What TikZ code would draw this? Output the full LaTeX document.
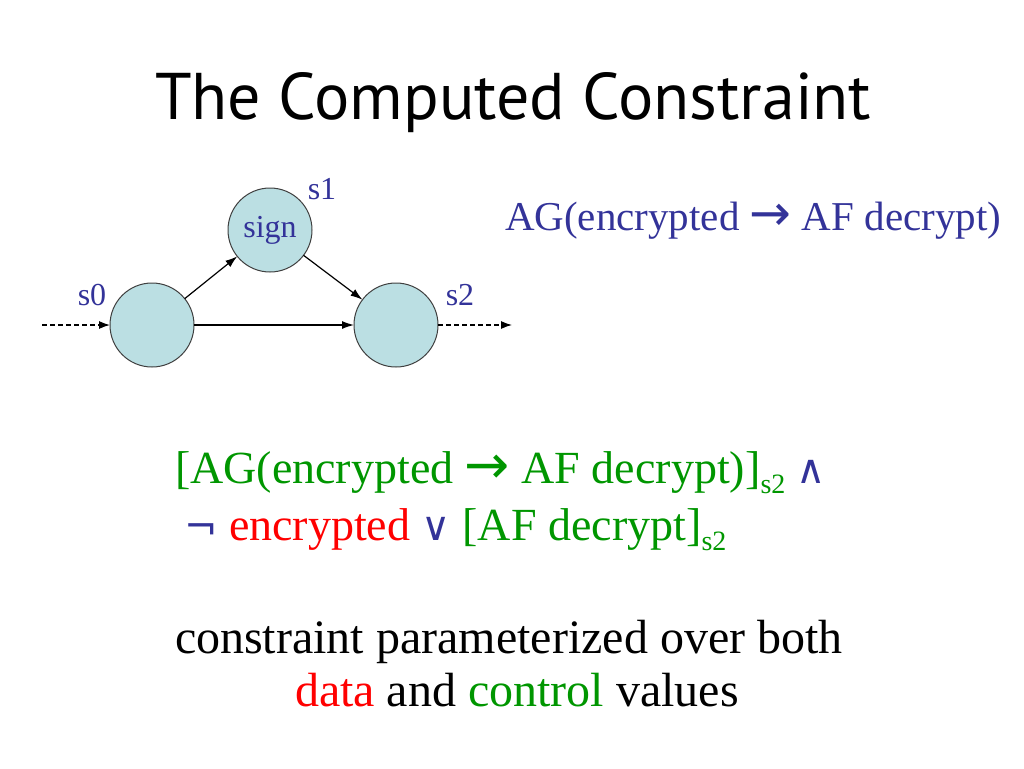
\documentclass[tikz,border=0pt]{standalone}
\usepackage{fontspec}
\setmainfont{Liberation Serif}
\newfontfamily\titlefont{PT Sans}
\newfontfamily\symfont{DejaVu Sans}
\usepackage{tikz}
\usetikzlibrary{arrows.meta,positioning}
\usepackage{xcolor}
\definecolor{statefill}{RGB}{187,223,227}
\definecolor{specblue}{RGB}{51,51,153}
\definecolor{ctlgreen}{RGB}{0,150,0}
\definecolor{datared}{RGB}{255,0,0}
\newcommand{\stepsub}[1]{\raisebox{-0.22em}{\fontsize{28}{28}\selectfont #1}}
\newcommand{\sym}[2]{{\symfont\fontsize{#1}{#1}\selectfont #2}}

\begin{document}
\begin{tikzpicture}[x=1pt,y=-1pt,
	  every node/.style={inner sep=0pt,outer sep=0pt},
	  state/.style={circle,draw=black!75,line width=1pt,fill=statefill,minimum size=84pt,text=specblue,font=\fontsize{32}{32}\selectfont},
	  statename/.style={text=specblue,font=\fontsize{32}{32}\selectfont},
	  spec/.style={anchor=base west,text=specblue,font=\fontsize{41}{41}\selectfont},
	  formula/.style={anchor=base west,font=\fontsize{46}{46}\selectfont},
	  remark/.style={anchor=base west,font=\fontsize{48}{48}\selectfont},
	  to/.style={-{Latex[length=12pt,width=8pt]},draw=black,line width=1.2pt},
	  loose/.style={-{Latex[length=11pt,width=8pt]},draw=black,line width=1.2pt,dash pattern=on 5pt off 3pt}]

	  \useasboundingbox (0,0) rectangle (1024,768);

	  \node[anchor=base west,font=\titlefont\fontsize{66}{66}\selectfont] (title) at (155,119) {The Computed Constraint};

	  % the three states
	  \node[state] (szero) at (152,325) {};
	  \node[state] (sone) at (270,230) {sign};
	  \node[state] (stwo) at (396,325) {};
	  \node[statename] (szeroname) at (92,295) {s0};
	  \node[statename] (sonename) at (322,189) {s1};
	  \node[statename] (stwoname) at (460,295) {s2};
	  \coordinate (entry) at (42,325);
	  \coordinate (exit) at (512,325);

	  \draw[loose] (entry) -- (szero);
	  \draw[to] (szero) -- (sone);
	  \draw[to] (sone) -- (stwo);
	  \draw[to] (szero) -- (stwo);
	  \draw[loose] (stwo) -- (exit);

	  \node[spec] (property) at (505,230) {AG(encrypted \sym{50}{→} AF decrypt)};

	  \node[formula,text=ctlgreen] (conjfirst) at (175,483) {[AG(encrypted \sym{54}{→} AF decrypt)]\stepsub{s2} \textcolor{specblue}{\sym{40}{∧}}};
	  \node[formula] (conjsecond) at (184,540) {\textcolor{specblue}{\sym{40}{¬}} \textcolor{datared}{encrypted} \textcolor{specblue}{\sym{40}{∨}} \textcolor{ctlgreen}{[AF decrypt]\stepsub{s2}}};

	  \node[remark] (remarkfirst) at (175,653) {constraint parameterized over both};
	  \node[remark] (remarksecond) at (295,706) {\textcolor{datared}{data} and \textcolor{ctlgreen}{control} values};

\end{tikzpicture}
\end{document}
